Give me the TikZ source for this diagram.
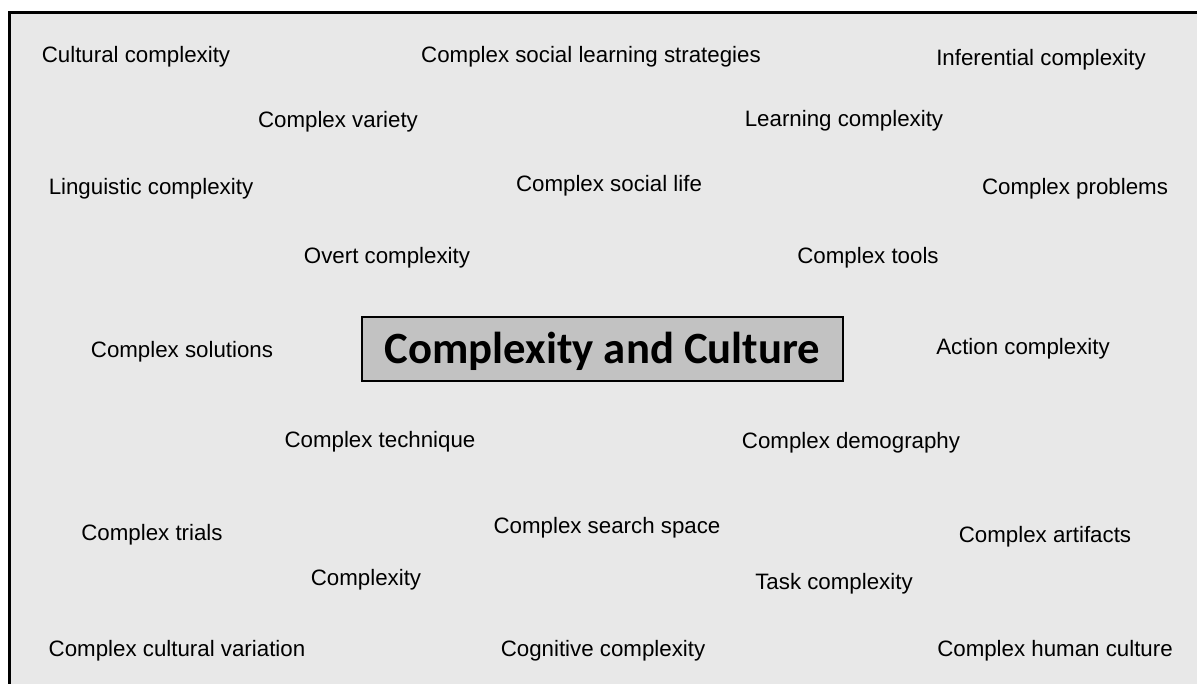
\documentclass[tikz,border=0pt]{standalone}
\usepackage{fontspec}
\setmainfont{Liberation Sans}
\newfontfamily\titlefont{Carlito}
\definecolor{panelgray}{HTML}{E8E8E8}
\definecolor{boxgray}{HTML}{C2C2C2}
\tikzset{term/.style={anchor=base, inner sep=0pt, font=\fontsize{22.3}{26}\selectfont}}

\begin{document}
\begin{tikzpicture}[x=1pt,y=-1pt]
	%%%%% START %%%%%
	
	\useasboundingbox (0,0) rectangle (1197,684);
	\fill[panelgray] (9,13) rectangle (1197,684);
	\draw[line width=3pt] (9,684) -- (9,13) -- (1197,13);
	
	\node[draw, line width=2pt, fill=boxgray, minimum width=481pt, minimum height=64pt, inner sep=0pt, text height=29pt, text depth=0pt, font=\titlefont\bfseries\fontsize{44.7}{50}\selectfont] (title) at (602.5,349) {Complexity and Culture};
	
	\node[term] (cultural) at (136,63) {Cultural complexity};
	\node[term] (strategies) at (591,63) {Complex social learning strategies};
	\node[term] (inferential) at (1041,66) {Inferential complexity};
	
	\node[term] (variety) at (338,128) {Complex variety};
	\node[term] (learning) at (844,127) {Learning complexity};
	
	\node[term] (linguistic) at (151,195) {Linguistic complexity};
	\node[term] (sociallife) at (609,192) {Complex social life};
	\node[term] (problems) at (1075,195) {Complex problems};
	
	\node[term] (overt) at (387,264) {Overt complexity};
	\node[term] (tools) at (868,264) {Complex tools};
	
	\node[term] (solutions) at (182,358) {Complex solutions};
	\node[term] (action) at (1023,355) {Action complexity};
	
	\node[term] (technique) at (380,447) {Complex technique};
	\node[term] (demography) at (851,449) {Complex demography};
	
	\node[term] (trials) at (152,540) {Complex trials};
	\node[term] (searchspace) at (607,533) {Complex search space};
	\node[term] (artifacts) at (1045,542) {Complex artifacts};
	
	\node[term] (complexity) at (366,585) {Complexity};
	\node[term] (task) at (834,589) {Task complexity};
	
	\node[term] (variation) at (177,656) {Complex cultural variation};
	\node[term] (cognitive) at (603,656) {Cognitive complexity};
	\node[term] (human) at (1055,656) {Complex human culture};
	
	%%%%% END %%%%%
\end{tikzpicture}
\end{document}
